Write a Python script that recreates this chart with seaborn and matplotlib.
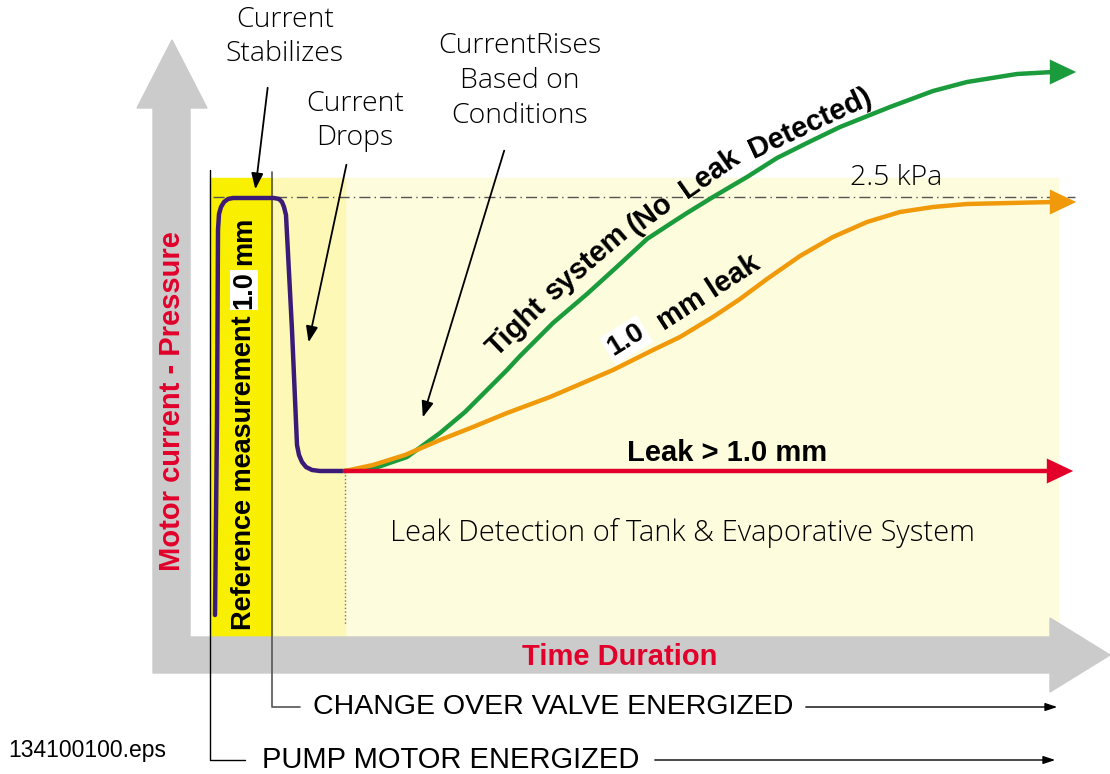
#libraries

import pandas as pd
import matplotlib.pyplot as plt
import matplotlib.patches as mpatches
import seaborn as sns

sns.set_theme(style="white")
plt.rcParams['font.family'] = ['Liberation Sans', 'DejaVu Sans']
plt.rcParams['text.color'] = 'black'

# curves (time position, level position in image units)
purple_t = [215, 217, 218, 219, 221, 224, 228, 233, 274, 279, 282, 284, 286, 292, 297, 299, 302, 306, 312, 320, 345]
purple_v = [615, 420, 230, 214, 207, 202, 199, 198, 198, 199, 202, 207, 215, 330, 445, 455, 462, 467, 470, 471, 471]

green_t = [345, 375, 407, 440, 465, 480, 497, 507, 520, 553, 587, 620, 647, 673, 687, 713, 747,
           777, 807, 840, 890, 933, 967, 1017, 1053]
green_v = [471, 468, 457, 433, 412, 397, 380, 370, 356, 323, 294, 264, 239, 222, 213, 197, 177,
           158, 143, 127, 107, 91, 82, 74, 72]

orange_t = [345, 373, 405, 440, 473, 507, 550, 613, 653, 680, 713, 740, 767, 800, 833, 867,
            900, 933, 967, 1010, 1053]
orange_v = [471, 465, 455, 440, 427, 413, 397, 370, 350, 337, 317, 299, 279, 256, 237, 222,
            212, 207, 204, 203, 202]

red_t = [345, 700, 1050]
red_v = [471, 471, 471]

threshold_label = "2.5 kPa"
threshold_level = 197

RED = "#e2002b"
GREEN = "#1a9b3c"
ORANGE = "#f09a0b"
PURPLE = "#3b1a78"
GRAY = "#cbcbcb"
light = ['Open Sans', 'Liberation Sans']
narrow = ['Liberation Sans Narrow', 'Liberation Sans']

fig = plt.figure(figsize=(11.1, 7.74), dpi=100)
ax = fig.add_axes([0, 0, 1, 1])

# background zones
ax.add_patch(mpatches.Rectangle((345, 178), 713, 459, color="#fdfcdc", zorder=0))
ax.add_patch(mpatches.Rectangle((272, 178), 73, 459, color="#fef8b6", zorder=0))
ax.add_patch(mpatches.Rectangle((210, 178), 62, 459, color="#f8f000", zorder=0))

# big gray axis arrows
ax.add_patch(mpatches.Polygon([(153, 108), (137, 108), (172, 40), (207, 108), (190, 108),
                               (190, 637), (1050, 637), (1050, 618), (1110, 655),
                               (1050, 692), (1050, 673), (153, 673)],
                              closed=True, color=GRAY, zorder=1))
ax.text(620, 657, "Time Duration", color=RED, fontsize=21, fontweight='bold',
        family=narrow, ha='center', va='center', zorder=5)
ax.text(172, 401, "Motor current - Pressure", color=RED, fontsize=21, fontweight='bold',
        rotation=90, ha='center', va='center', zorder=5)

# marker lines for the two events
ax.plot([210, 210, 245], [170, 760, 760], color="black", lw=1, zorder=2)
ax.plot([272, 272, 300], [172, 707, 707], color="#555555", lw=1.2, zorder=2)
ax.annotate("", xy=(1058, 760), xytext=(652, 760),
            arrowprops=dict(arrowstyle="-|>,head_length=0.6,head_width=0.2", color="black", lw=1))
ax.annotate("", xy=(1060, 707), xytext=(803, 707),
            arrowprops=dict(arrowstyle="-|>,head_length=0.6,head_width=0.2", color="black", lw=1))
ax.text(313, 707, "CHANGE OVER VALVE ENERGIZED", fontsize=20.5, family=narrow, va='center', ha='left')
ax.text(262, 760, "PUMP MOTOR ENERGIZED", fontsize=21, family=narrow, va='center', ha='left')
ax.text(8, 750, "134100100.eps", fontsize=16.5, family=narrow, va='center', ha='left')

# threshold
ax.plot([213, 1075], [threshold_level, threshold_level], color="#555555", lw=1,
        linestyle=(0, (8, 3, 1, 3)), zorder=2)
ax.text(896, 178, threshold_label, fontsize=20.5, family=light, fontweight='light',
        ha='center', va='center')
ax.plot([345, 345], [471, 625], color="#777777", lw=1, linestyle=':', zorder=2)

# curves
curves = [
    ("purple", purple_t, purple_v, PURPLE),
    ("green", green_t, green_v, GREEN),
    ("orange", orange_t, orange_v, ORANGE),
    ("red", red_t, red_v, RED),
]
for name, t, v, c in curves:
    df = pd.DataFrame({"time": t, "level": v})
    sns.lineplot(data=df, x="time", y="level", sort=False, estimator=None,
                 color=c, lw=3.2, ax=ax, zorder=4)
    if name != "purple":
        ax.annotate("", xy=(t[-1] + 26, v[-1]), xytext=(t[-2], v[-1]),
                    arrowprops=dict(arrowstyle="-|>,head_length=0.95,head_width=0.45",
                                    mutation_scale=20, color=c, lw=0), zorder=4)

# curve labels (the tight-system label follows the curve word by word)
for word, x, y, ang in [("Tight", 516, 327, 44), ("system", 587, 262, 41),
                        ("(No", 650, 214, 36), ("Leak", 710, 173, 35),
                        ("Detected)", 810, 123, 25)]:
    ax.text(x, y, word, fontsize=21, fontweight='bold', rotation=ang,
            rotation_mode='anchor', ha='center', va='center', zorder=5)
ax.text(626, 340, "1.0", fontsize=20, fontweight='bold', rotation=32, rotation_mode='anchor',
        ha='center', va='center', zorder=5,
        bbox=dict(facecolor='white', edgecolor='none', pad=2))
ax.text(708, 293, "mm leak", fontsize=21, fontweight='bold', rotation=33, rotation_mode='anchor',
        ha='center', va='center', zorder=5)
ax.text(727, 453, "Leak > 1.0 mm", fontsize=21, fontweight='bold', ha='center', va='center', zorder=5)
ax.text(682, 533, "Leak Detection of Tank & Evaporative System", fontsize=21, family=light,
        fontweight='light', ha='center', va='center', zorder=5)

# reference measurement label (vertical)
ax.text(244, 630, "Reference measurement", fontsize=19.5, fontweight='bold', rotation=90,
        rotation_mode='anchor', ha='left', va='center', zorder=5)
ax.text(244, 290, "1.0", fontsize=19.5, fontweight='bold', rotation=90, rotation_mode='anchor',
        ha='center', va='center', zorder=5,
        bbox=dict(facecolor='white', edgecolor='none', pad=1))
ax.text(244, 265, "mm", fontsize=19.5, fontweight='bold', rotation=90, rotation_mode='anchor',
        ha='left', va='center', zorder=5)

# callouts
callout = dict(arrowstyle="-|>,head_length=0.8,head_width=0.3", color="black", lw=1.3)
ax.text(285, 37, "Current\nStabilizes", fontsize=20.5, family=light, fontweight='light',
        ha='center', va='center', linespacing=1.32)
ax.annotate("", xy=(255, 192), xytext=(268, 85), arrowprops=callout)
ax.text(355, 121, "Current\nDrops", fontsize=20.5, family=light, fontweight='light',
        ha='center', va='center', linespacing=1.32)
ax.annotate("", xy=(308, 345), xytext=(347, 162), arrowprops=callout)
ax.text(520, 81, "CurrentRises\nBased on\nConditions", fontsize=20.5, family=light,
        fontweight='light', ha='center', va='center', linespacing=1.32)
ax.annotate("", xy=(422, 420), xytext=(505, 148), arrowprops=callout)

ax.set_xlim(0, 1110)
ax.set_ylim(774, 0)
ax.axis('off')

plt.savefig("out.png", dpi=100)
